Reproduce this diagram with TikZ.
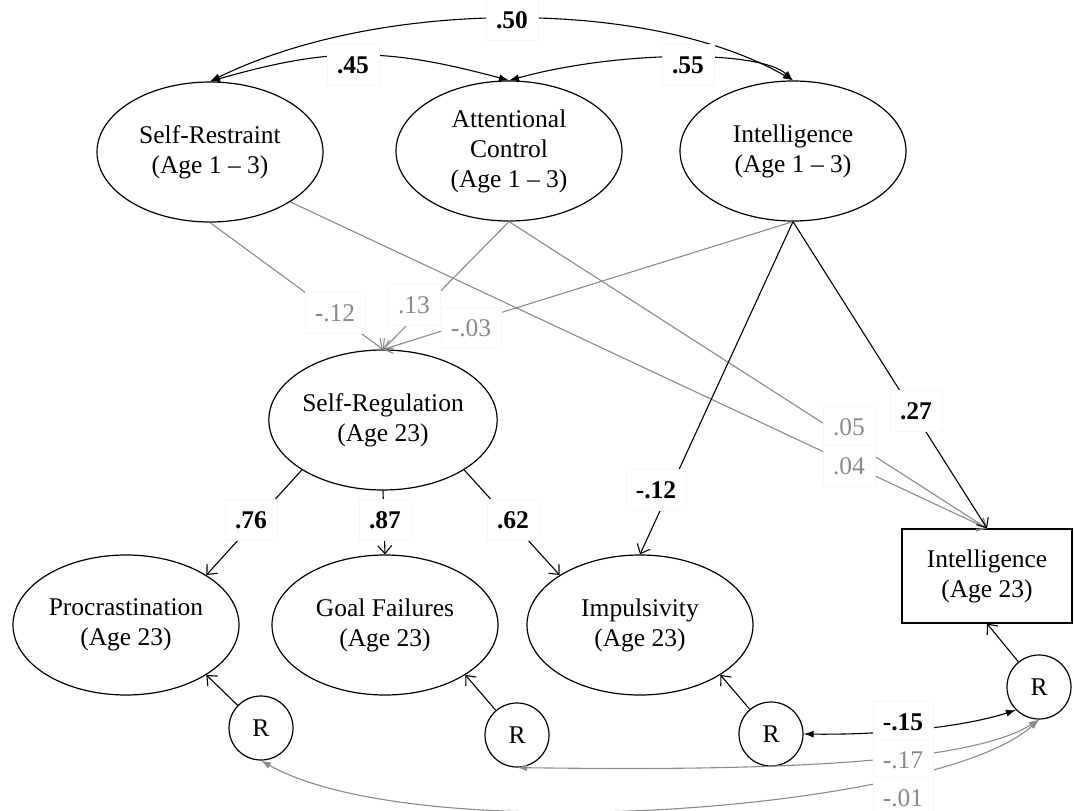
\documentclass[tikz,border=0pt]{standalone}
\usepackage{fontspec}
\setmainfont{Liberation Serif}
\usetikzlibrary{arrows.meta,shapes.geometric}
\definecolor{lg}{HTML}{8A8A8A}
\begin{document}
\begin{tikzpicture}[x=1pt,y=-1pt,
  every node/.style={font=\fontsize{25.5}{30}\selectfont},
  lat/.style={draw,ellipse,line width=1.2pt,minimum width=226pt,minimum height=140pt,inner sep=0pt,align=center},
  res/.style={draw,circle,line width=1.2pt,minimum size=64pt,inner sep=0pt},
  obs/.style={draw,rectangle,line width=1.2pt,minimum width=170pt,minimum height=94pt,align=center},
  lab/.style={fill=white,draw=black!3,inner xsep=10pt,inner ysep=0pt,minimum height=41pt},
  blab/.style={lab,font=\fontsize{25.5}{30}\selectfont\bfseries},
  glab/.style={lab,text=lg},
  reg/.style={line width=1.1pt,-{Straight Barb[length=8pt,width=14pt]}},
  greg/.style={reg,draw=lg},
  cor/.style={line width=1.1pt,{Latex[length=10pt,width=7pt]}-{Latex[length=10pt,width=7pt]}},
  gcor/.style={cor,draw=lg},
]
\useasboundingbox (0,0) rectangle (1074,811);

% nodes
\node[lat] (sr) at (210,152) {Self-Restraint\\(Age 1 -- 3)};
\node[lat] (ac) at (509,151) {Attentional\\Control\\(Age 1 -- 3)};
\node[lat] (int) at (793,151) {Intelligence\\(Age 1 -- 3)};
\node[lat] (sreg) at (383,420) {Self-Regulation\\(Age 23)};
\node[lat] (proc) at (126,625) {Procrastination\\(Age 23)};
\node[lat] (gf) at (385,625) {Goal Failures\\(Age 23)};
\node[lat] (imp) at (640,625) {Impulsivity\\(Age 23)};
\node[obs] (int23) at (987,576) {Intelligence\\(Age 23)};
\node[res] (r1) at (261,728) {R};
\node[res] (r2) at (517,735) {R};
\node[res] (r3) at (771,734) {R};
\node[res] (r4) at (1039,687) {R};

% correlations among predictors
\draw[cor] (sr.north) .. controls (380,-2) and (650,-2) .. (int.north);
\draw[cor] (sr.north) .. controls (330,47) and (385,47) .. (ac.north);
\draw[cor] (ac.north) .. controls (620,50) and (760,50) .. (int.north);

% gray regression paths
\draw[greg] (sr.south) -- (sreg.north);
\draw[greg] (ac.south) -- (sreg.north);
\draw[greg] (int.south) -- (sreg.north);
\draw[greg] (ac.south) -- (int23.north);
\draw[greg] (sr.south east) -- (int23.north);

% black regression paths
\draw[reg] (int.south) -- (int23.north);
\draw[reg] (int.south) -- (imp.north);
\draw[reg] (sreg.south west) -- (proc.north east);
\draw[reg] (sreg.south) -- (gf.north);
\draw[reg] (sreg.south east) -- (imp.north west);

% residuals
\draw[reg] (r1) -- (proc.south east);
\draw[reg] (r2) -- (gf.south east);
\draw[reg] (r3) -- (imp.south east);
\draw[reg] (r4) -- (int23.south);

% residual correlations
\draw[cor] (r4.south west) .. controls (960,728) and (880,735) .. (r3.east);
\draw[gcor] (r4.south) .. controls (960,770) and (700,770) .. (r2.south);
\draw[gcor] (r4.south) .. controls (940,810) and (420,850) .. (r1.south);

% labels
\node[blab] (l50) at (512,20) {.50};
\node[blab] (l45) at (353,65) {.45};
\node[blab] (l55) at (688,65) {.55};
\node[glab] (l12a) at (335,313) {-.12};
\node[glab] (l13) at (414,305) {.13};
\node[glab] (l03) at (471,328) {-.03};
\node[glab] (l05) at (849,427) {.05};
\node[glab] (l04) at (849,466) {.04};
\node[blab] (l27) at (916,411) {.27};
\node[blab] (l12b) at (656,490) {-.12};
\node[blab] (l76) at (251,520) {.76};
\node[blab] (l87) at (385,520) {.87};
\node[blab] (l62) at (513,520) {.62};
\node[blab] (l15) at (903,722) {-.15};
\node[glab] (l17) at (903,760) {-.17};
\node[glab] (l01) at (903,798) {-.01};
\end{tikzpicture}
\end{document}
